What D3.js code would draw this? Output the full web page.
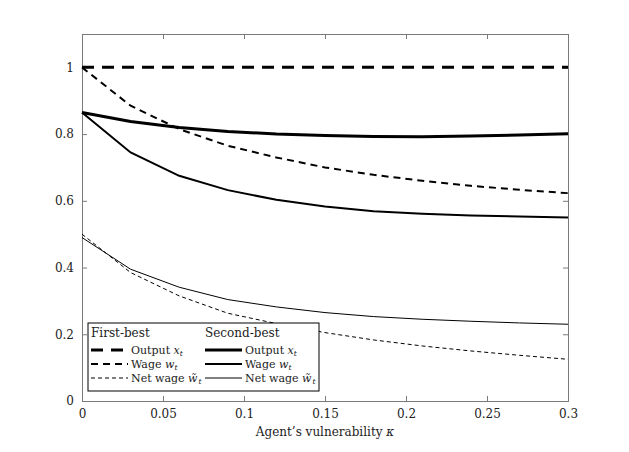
<html>
<head>
<script src="https://d3js.org/d3.v7.min.js"></script>
<style>
  body { margin: 0; background: #fff; }
  svg text { font-family: "DejaVu Serif", "Liberation Serif", serif; fill: #222; }
</style>
</head>
<body>
<div id="chart"></div>
<script>
// kappa grid
var kappa = [0, 0.03, 0.06, 0.09, 0.12, 0.15, 0.18, 0.21, 0.24, 0.27, 0.30];

// first-best
var fbOutput = [1, 1, 1, 1, 1, 1, 1, 1, 1, 1, 1];
var fbWage   = [1.0, 0.885, 0.815, 0.765, 0.73, 0.70, 0.678, 0.66, 0.645, 0.633, 0.623];
var fbNet    = [0.50, 0.385, 0.315, 0.263, 0.232, 0.205, 0.183, 0.165, 0.15, 0.137, 0.125];

// second-best
var sbOutput = [0.865, 0.838, 0.82, 0.808, 0.80, 0.796, 0.793, 0.792, 0.794, 0.797, 0.801];
var sbWage   = [0.865, 0.745, 0.675, 0.632, 0.603, 0.583, 0.569, 0.561, 0.556, 0.553, 0.550];
var sbNet    = [0.49, 0.395, 0.341, 0.304, 0.282, 0.265, 0.253, 0.245, 0.239, 0.234, 0.23];

var xTicks = [0, 0.05, 0.1, 0.15, 0.2, 0.25, 0.3];
var yTicks = [0, 0.2, 0.4, 0.6, 0.8, 1];

var margin = {top: 34, left: 82, right: 61, bottom: 51};
var W = 629, H = 452;
var width = W - margin.left - margin.right;
var height = H - margin.top - margin.bottom;

var x = d3.scaleLinear().domain([0, 0.3]).range([0, width]);
var y = d3.scaleLinear().domain([0, 1.1]).range([height, 0]);

var svg = d3.select("#chart").append("svg")
    .attr("width", W).attr("height", H)
  .append("g")
    .attr("transform", "translate(" + margin.left + "," + margin.top + ")");

// axes with inward ticks on all four sides
var axCol = "#7a7a7a";
function styleAxis(g) {
  g.attr("font-family", null);
  g.select(".domain").attr("stroke", axCol);
  g.selectAll(".tick line").attr("stroke", axCol);
  g.selectAll("text").attr("font-size", 12).attr("fill", "#222");
}
svg.append("g").attr("transform", "translate(0," + height + ")")
  .call(d3.axisBottom(x).tickValues(xTicks).tickSize(-5).tickPadding(8).tickFormat(d3.format("")))
  .call(styleAxis);
svg.append("g")
  .call(d3.axisTop(x).tickValues(xTicks).tickSize(-5).tickFormat(""))
  .call(styleAxis);
svg.append("g")
  .call(d3.axisLeft(y).tickValues(yTicks).tickSize(-5).tickPadding(8).tickFormat(d3.format("")))
  .call(styleAxis);
svg.append("g").attr("transform", "translate(" + width + ",0)")
  .call(d3.axisRight(y).tickValues(yTicks).tickSize(-5).tickFormat(""))
  .call(styleAxis);

svg.append("text")
  .attr("x", width / 2).attr("y", height + 35)
  .attr("text-anchor", "middle").attr("font-size", 12)
  .html("Agent\u2019s vulnerability <tspan font-style='italic'>\u03ba</tspan>");

var series = [
  {v: fbOutput, w: 3,   dash: "12,8"},
  {v: fbWage,   w: 2,   dash: "7,5"},
  {v: fbNet,    w: 1,   dash: "4,3"},
  {v: sbOutput, w: 3,   dash: null},
  {v: sbWage,   w: 2,   dash: null},
  {v: sbNet,    w: 1,   dash: null}
];

var line = d3.line().x(function(d){ return x(d[0]); }).y(function(d){ return y(d[1]); });

series.forEach(function(s){
  svg.append("path")
    .datum(kappa.map(function(k, i){ return [k, s.v[i]]; }))
    .attr("fill", "none").attr("stroke", "#000")
    .attr("stroke-width", s.w)
    .attr("stroke-dasharray", s.dash)
    .attr("d", line);
});

// legend
var lg = svg.append("g").attr("transform", "translate(6,289)");
lg.append("rect").attr("width", 231).attr("height", 68)
  .attr("fill", "#fff").attr("stroke", "#000").attr("stroke-width", 1);

var labels = [
  "Output <tspan font-style='italic'>x</tspan><tspan font-style='italic' font-size='7.5' dy='2'>t</tspan>",
  "Wage <tspan font-style='italic'>w</tspan><tspan font-style='italic' font-size='7.5' dy='2'>t</tspan>",
  "Net wage <tspan font-style='italic'>w\u0303</tspan><tspan font-style='italic' font-size='7.5' dx='1' dy='2'>t</tspan>"
];
var cols = [{x: 3, title: "First-best"}, {x: 117, title: "Second-best"}];

cols.forEach(function(c, ci){
  lg.append("text").attr("x", c.x).attr("y", 14).attr("font-size", 12).text(c.title);
  for (var r = 0; r < 3; r++) {
    var s = series[ci * 3 + r];
    var yy = 27 + r * 14;
    lg.append("line")
      .attr("x1", c.x).attr("x2", c.x + 37).attr("y1", yy).attr("y2", yy)
      .attr("stroke", "#000").attr("stroke-width", s.w)
      .attr("stroke-dasharray", s.dash);
    lg.append("text").attr("x", c.x + 40).attr("y", yy + 4).attr("font-size", 11)
      .html(labels[r]);
  }
});
</script>
</body>
</html>
